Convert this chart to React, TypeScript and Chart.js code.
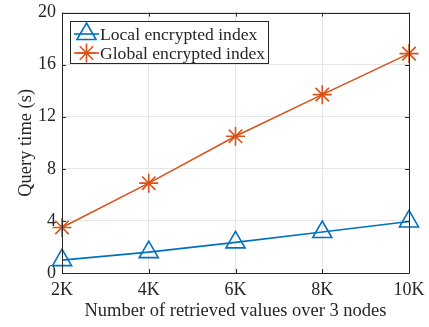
import React, { useEffect, useRef } from "react";
import { Chart, registerables } from "chart.js";

Chart.register(...registerables);

const categories = ["2K", "4K", "6K", "8K", "10K"];
const localIndex = [0.99, 1.6, 2.35, 3.15, 3.96];
const globalIndex = [3.5, 6.9, 10.5, 13.7, 16.85];
const yTicks = [0, 4, 8, 12, 16, 20];
const seriesNames = ["Local encrypted index", "Global encrypted index"];

const BLUE = "#0072BD";
const ORANGE = "#D95319";
const INK = "#262626";
const FONT = "'Liberation Serif', 'Times New Roman', serif";

function drawPointShape(ctx: CanvasRenderingContext2D, style: string, r: number, x: number, y: number) {
  ctx.beginPath();
  if (style === "triangle") {
    let rad = 0;
    ctx.moveTo(x + Math.sin(rad) * r, y - Math.cos(rad) * r);
    rad += (2 * Math.PI) / 3;
    ctx.lineTo(x + Math.sin(rad) * r, y - Math.cos(rad) * r);
    rad += (2 * Math.PI) / 3;
    ctx.lineTo(x + Math.sin(rad) * r, y - Math.cos(rad) * r);
    ctx.closePath();
  } else {
    for (let k = 0; k < 4; k++) {
      const ang = (k * Math.PI) / 4;
      ctx.moveTo(x - Math.cos(ang) * r, y - Math.sin(ang) * r);
      ctx.lineTo(x + Math.cos(ang) * r, y + Math.sin(ang) * r);
    }
  }
  ctx.stroke();
}

// Axes box with inward ticks on all four sides, plus a framed legend inside the plot.
const framePlugin = {
  id: "frame",
  afterDraw(chart: any) {
    const { ctx, chartArea: a, scales } = chart;
    const x = scales.x;
    const y = scales.y;
    const tl = 4;
    ctx.save();
    ctx.strokeStyle = INK;
    ctx.lineWidth = 1;
    ctx.beginPath();
    ctx.rect(Math.round(a.left) + 0.5, Math.round(a.top) + 0.5, Math.round(a.right - a.left), Math.round(a.bottom - a.top));
    ctx.stroke();
    ctx.beginPath();
    categories.forEach((_, i) => {
      const px = Math.round(x.getPixelForValue(i)) + 0.5;
      ctx.moveTo(px, a.bottom);
      ctx.lineTo(px, a.bottom - tl);
      ctx.moveTo(px, a.top);
      ctx.lineTo(px, a.top + tl);
    });
    yTicks.forEach((v) => {
      const py = Math.round(y.getPixelForValue(v)) + 0.5;
      ctx.moveTo(a.left, py);
      ctx.lineTo(a.left + tl, py);
      ctx.moveTo(a.right, py);
      ctx.lineTo(a.right - tl, py);
    });
    ctx.stroke();

    // legend
    const lx = Math.round(a.left) + 8;
    const ly = Math.round(a.top) + 8;
    const lw = 198;
    const lh = 42;
    ctx.fillStyle = "#ffffff";
    ctx.fillRect(lx, ly, lw, lh);
    ctx.strokeStyle = INK;
    ctx.strokeRect(lx + 0.5, ly + 0.5, lw, lh);
    const rows = [
      { name: seriesNames[0], color: BLUE, style: "triangle", r: 11 },
      { name: seriesNames[1], color: ORANGE, style: "star", r: 9.5 },
    ];
    rows.forEach((row, i) => {
      const cy = ly + 13 + i * 19;
      ctx.strokeStyle = row.color;
      ctx.lineWidth = 1.6;
      ctx.beginPath();
      ctx.moveTo(lx + 4, cy);
      ctx.lineTo(lx + 29, cy);
      ctx.stroke();
      drawPointShape(ctx, row.style, row.r, lx + 16.5, cy);
      ctx.fillStyle = INK;
      ctx.font = `17.6px ${FONT}`;
      ctx.textBaseline = "middle";
      ctx.textAlign = "left";
      ctx.fillText(row.name, lx + 30, cy + 1);
    });
    ctx.restore();
  },
};

export default function App() {
  const ref = useRef<HTMLCanvasElement>(null);

  useEffect(() => {
    if (!ref.current) return;
    const chart = new Chart(ref.current, {
      type: "line",
      data: {
        labels: categories,
        datasets: [
          {
            label: seriesNames[0],
            data: localIndex,
            borderColor: BLUE,
            backgroundColor: "rgba(0,0,0,0)",
            borderWidth: 1.6,
            pointStyle: "triangle",
            pointRadius: 11,
            pointBorderWidth: 1.6,
            pointBorderColor: BLUE,
            pointBackgroundColor: "rgba(0,0,0,0)",
            tension: 0,
          },
          {
            label: seriesNames[1],
            data: globalIndex,
            borderColor: ORANGE,
            backgroundColor: "rgba(0,0,0,0)",
            borderWidth: 1.6,
            pointStyle: "star",
            pointRadius: 9.5,
            pointBorderWidth: 1.6,
            pointBorderColor: ORANGE,
            pointBackgroundColor: "rgba(0,0,0,0)",
            tension: 0,
          },
        ],
      },
      options: {
        animation: false,
        responsive: false,
        events: [],
        layout: { padding: { top: 10, right: 20, left: 0, bottom: 0 } },
        plugins: { legend: { display: false }, tooltip: { enabled: false } },
        scales: {
          x: {
            type: "category",
            offset: false,
            grid: { color: "#e6e6e6", drawTicks: false, lineWidth: 1 },
            border: { display: false },
            ticks: { color: INK, font: { family: FONT, size: 18 }, padding: 6, maxRotation: 0 },
            title: {
              display: true,
              text: "Number of retrieved values over 3 nodes",
              color: INK,
              font: { family: FONT, size: 18.5 },
              padding: { top: 0, bottom: 5 },
            },
            afterFit(scale: any) {
              scale.height = 54;
              scale.paddingLeft = 0;
              scale.paddingRight = 0;
            },
          },
          y: {
            min: 0,
            max: 20,
            afterBuildTicks(scale: any) {
              scale.ticks = yTicks.map((v) => ({ value: v }));
            },
            grid: { color: "#e6e6e6", drawTicks: false, lineWidth: 1 },
            border: { display: false },
            ticks: { color: INK, font: { family: FONT, size: 18 }, padding: 6 },
            title: {
              display: true,
              text: "Query time (s)",
              color: INK,
              font: { family: FONT, size: 18.5 },
              padding: { top: 15, bottom: 0 },
            },
            afterFit(scale: any) {
              scale.width = 62;
              scale.paddingTop = 0;
              scale.paddingBottom = 0;
            },
          },
        },
      },
      plugins: [framePlugin],
    });
    return () => chart.destroy();
  }, []);

  return (
    <div style={{ position: "absolute", left: 0, top: 0, width: 429, height: 327, background: "#fff" }}>
      <canvas ref={ref} width={429} height={327} />
    </div>
  );
}
